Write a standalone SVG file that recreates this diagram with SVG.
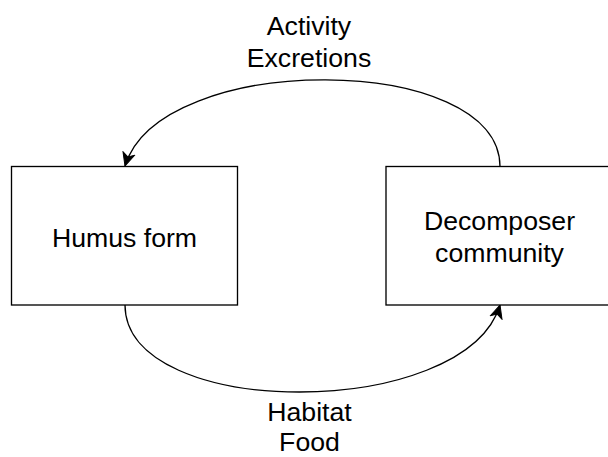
<svg xmlns="http://www.w3.org/2000/svg" width="608" height="457" viewBox="0 0 608 457">
<style>
.box{fill:#fff;stroke:#000;stroke-width:1.33}
.edge{fill:none;stroke:#000;stroke-width:1.33}
.t{font-family:"Liberation Sans",Arial,sans-serif;font-size:26.67px;fill:#000;text-anchor:middle}
</style>
<defs>
<marker id="arr" markerUnits="userSpaceOnUse" markerWidth="16" markerHeight="16" viewBox="-14 -7 16 14" refX="0" refY="0" orient="auto">
<path d="M0,0 L-13,-6 L-9.5,0 L-13,6 Z" fill="#000" stroke="#000" stroke-width="1"/>
</marker>
</defs>
<rect width="608" height="457" fill="#fff"/>
<g id="connectors">
<path class="edge" d="M500,166.5 C500,52 160,50 125,166" marker-end="url(#arr)"/>
<path class="edge" d="M125,305 C125,421 465,421 500,305" marker-end="url(#arr)"/>
</g>
<g id="humus">
<rect class="box" x="11.5" y="166.5" width="226" height="138.5"/>
<text class="t" x="124.5" y="246.7">Humus form</text>
</g>
<g id="decomposer">
<rect class="box" x="386" y="166.5" width="226" height="138.5"/>
<text class="t" x="499.5" y="230">Decomposer</text>
<text class="t" x="499.5" y="262">community</text>
</g>
<g id="label-top">
<text class="t" x="309" y="35">Activity</text>
<text class="t" x="309" y="67">Excretions</text>
</g>
<g id="label-bottom">
<text class="t" x="309.5" y="421">Habitat</text>
<text class="t" x="309.5" y="451">Food</text>
</g>
</svg>
